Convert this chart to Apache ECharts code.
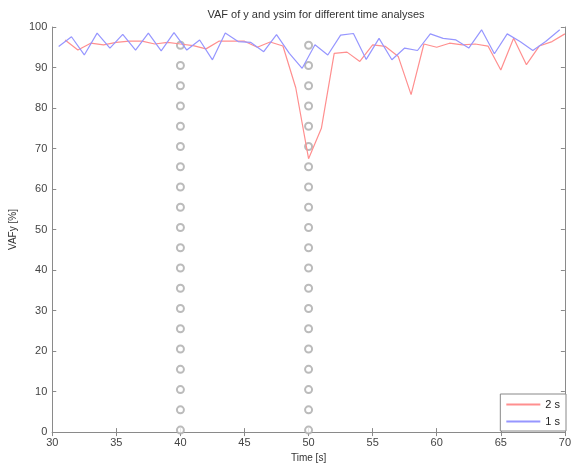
<!DOCTYPE html>
<html><head><meta charset="utf-8">
<script src="https://cdn.jsdelivr.net/npm/echarts@6/dist/echarts.min.js"></script>
<style>html,body{margin:0;padding:0;background:#fff}#c{width:574px;height:468px}</style>
</head><body><div id="c"></div>
<script>
const title = 'VAF of y and ysim for different time analyses';
const xLabel = 'Time [s]';
const yLabel = 'VAFy [%]';
// 2 s analysis: times 31..70
const t2 = [31,32,33,34,35,36,37,38,39,40,41,42,43,44,45,46,47,48,49,50,51,52,53,54,55,56,57,58,59,60,61,62,63,64,65,66,67,68,69,70];
const v2 = [96.8,94.3,96.0,95.6,96.2,96.5,96.5,95.8,96.2,95.8,95.4,94.6,96.5,96.5,96.5,95.0,96.3,95.3,85.0,67.5,75.0,93.5,93.8,91.5,95.6,95.2,92.7,83.3,95.8,95.0,96.0,95.6,95.8,95.3,89.4,97.2,90.7,95.3,96.4,98.3];
// 1 s analysis: times 30.5..69.5
const t1 = [30.5,31.5,32.5,33.5,34.5,35.5,36.5,37.5,38.5,39.5,40.5,41.5,42.5,43.5,44.5,45.5,46.5,47.5,48.5,49.5,50.5,51.5,52.5,53.5,54.5,55.5,56.5,57.5,58.5,59.5,60.5,61.5,62.5,63.5,64.5,65.5,66.5,67.5,68.5,69.6];
const v1 = [95.2,97.6,93.1,98.5,94.8,98.2,94.3,98.5,94.1,98.6,94.3,96.8,91.9,98.5,96.4,96.2,93.9,98.1,93.5,89.8,95.6,93.1,98.0,98.4,92.0,97.2,91.9,94.8,94.2,98.3,97.2,96.8,94.8,99.3,93.4,98.3,96.4,94.2,96.4,99.3];
// marker columns
const markerX = [40, 50];
const markerY = [0.5,5.5,10.5,15.5,20.5,25.5,30.5,35.5,40.5,45.5,50.5,55.5,60.5,65.5,70.5,75.5,80.5,85.5,90.5,95.5];

const zip = (a,b)=>a.map((x,i)=>[x,b[i]]);
const markers = [];
markerX.forEach(x=>markerY.forEach(y=>markers.push([x,y])));

const axisLine = {show:true, lineStyle:{color:'#8a8a8a', width:1}};
const font = 'Liberation Sans';
const chart = echarts.init(document.getElementById('c'));
chart.setOption({
  animation:false,
  textStyle:{fontFamily:font},
  title:{text:title, left:311, top:4, textAlign:'center',
    textStyle:{fontSize:11, fontWeight:'normal', color:'#333', fontFamily:font}},
  grid:{left:52, right:6, top:27, bottom:34},
  legend:{data:['2 s','1 s'], orient:'vertical', right:8, bottom:37,
    itemWidth:34, itemHeight:2, itemGap:6, icon:'rect',
    borderColor:'#888', borderWidth:1, padding:[5,6,4,6], backgroundColor:'#fff',
    textStyle:{fontSize:11, color:'#222', fontFamily:font}},
  xAxis:[{type:'value', min:30, max:70, interval:5, position:'bottom',
    name:xLabel, nameLocation:'middle', nameGap:20, nameTextStyle:{fontSize:10,color:'#333'},
    axisLine:axisLine, axisTick:{inside:true,length:4,lineStyle:{color:'#8a8a8a'}},
    axisLabel:{fontSize:11, color:'#444', margin:5}, splitLine:{show:false}},
    {type:'value', min:30, max:70, interval:5, position:'top',
    axisLine:axisLine, axisTick:{inside:true,length:4,lineStyle:{color:'#8a8a8a'}},
    axisLabel:{show:false}, splitLine:{show:false}}],
  yAxis:[{type:'value', min:0, max:100, interval:10, position:'left',
    name:yLabel, nameLocation:'middle', nameGap:34, nameRotate:90, nameTextStyle:{fontSize:10,color:'#333'},
    axisLine:axisLine, axisTick:{inside:true,length:4,lineStyle:{color:'#8a8a8a'}},
    axisLabel:{fontSize:11, color:'#444', margin:5}, splitLine:{show:false}},
    {type:'value', min:0, max:100, interval:10, position:'right',
    axisLine:axisLine, axisTick:{inside:true,length:4,lineStyle:{color:'#8a8a8a'}},
    axisLabel:{show:false}, splitLine:{show:false}}],
  series:[
    {name:'markers', type:'scatter', data:markers, symbol:'emptyCircle', symbolSize:7,
      itemStyle:{color:'#aaa', borderColor:'#aaa', borderWidth:1}, z:1},
    {name:'2 s', type:'line', data:zip(t2,v2), showSymbol:false, symbol:'none',
      lineStyle:{color:'#ff8f8f', width:1.2}, itemStyle:{color:'#ff8f8f'}, z:2},
    {name:'1 s', type:'line', data:zip(t1,v1), showSymbol:false, symbol:'none',
      lineStyle:{color:'#9696ff', width:1.2}, itemStyle:{color:'#9696ff'}, z:3}
  ]
});
</script></body></html>
